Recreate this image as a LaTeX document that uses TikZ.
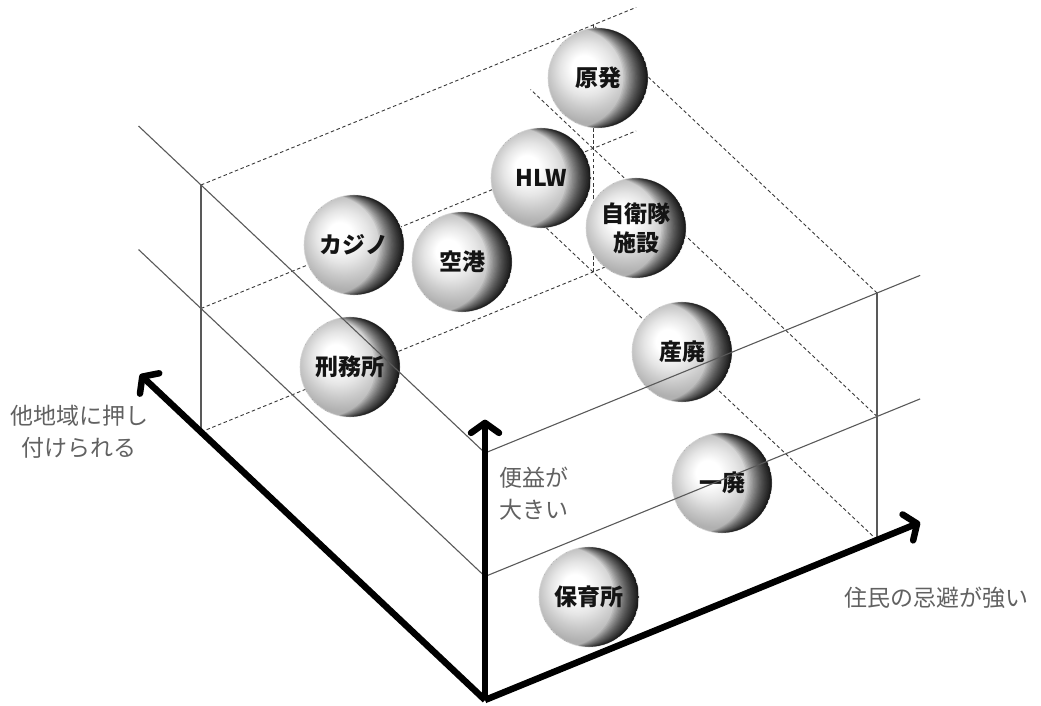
\documentclass[tikz,border=0pt]{standalone}
\usepackage{fontspec}
\newfontfamily\jp{Noto Sans CJK JP}
\usetikzlibrary{arrows.meta}

% light base of each ball: white highlight upper left, grey rim
\pgfdeclareradialshading{orbbase}{\pgfpoint{-8bp}{6bp}}{%
  color(0bp)=(white);
  color(6bp)=(white);
  color(13bp)=(black!10);
  color(19bp)=(black!21);
  color(25bp)=(black!31);
  color(50bp)=(black!31)}

\tikzset{
  orbnode/.style={circle, minimum size=100pt, inner sep=0pt, shading=orbbase,
    draw=black!16, line width=0.6pt},
  orbtext/.style={align=center, text=black!92, inner sep=0pt,
    font=\jp\bfseries\fontsize{23}{29}\selectfont},
  frameline/.style={draw=black!65, line width=1.1pt},
  hiddenline/.style={draw=black!78, line width=0.9pt, dash pattern=on 3.5pt off 2.6pt},
  axisarrow/.style={draw=black, line width=6.5pt,
    -{Straight Barb[length=10pt, width=28pt, round]}},
  axislabel/.style={font=\jp\fontsize{23}{32}\selectfont, text=black!62, align=center}
}

\begin{document}
\begin{tikzpicture}[x=1pt, y=1pt]
\useasboundingbox (0,0) rectangle (1041,706);

% oblique frame: x = residents' aversion, y = pushed elsewhere, z = benefit
\begin{scope}[shift={(485,6)}, x={(392pt,160pt)}, y={(-284pt,268pt)}, z={(0pt,123.5pt)}]
  \coordinate (O)   at (0,0,0);
  \coordinate (Z1)  at (0,0,1);
  \coordinate (Z2)  at (0,0,2);
  \coordinate (Ztip) at (0,0,2.27);
  \coordinate (Xtip) at (1.11,0,0);
  \coordinate (Ytip) at (0,1.215,0);
  \coordinate (Z1y) at (0,1.22,1);
  \coordinate (Z2y) at (0,1.22,2);
  \coordinate (Z1x) at (1.11,0,1);
  \coordinate (Z2x) at (1.11,0,2);
  \coordinate (L0)  at (0,1,0);
  \coordinate (L1)  at (0,1,1);
  \coordinate (L2)  at (0,1,2);
  \coordinate (R0)  at (1,0,0);
  \coordinate (R1)  at (1,0,1);
  \coordinate (R2)  at (1,0,2);
  \coordinate (B0)  at (1,1,0);
  \coordinate (B2)  at (1,1,2);
  \coordinate (L0x) at (1.11,1,0);
  \coordinate (L1x) at (1.11,1,1);
  \coordinate (L2x) at (1.11,1,2);
  \coordinate (R0y) at (1,1.22,0);
  \coordinate (R1y) at (1,1.22,1);
\end{scope}

% hidden edges of the box
\draw[hiddenline] (L0) -- (L0x);
\draw[hiddenline] (L1) -- (L1x);
\draw[hiddenline] (L2) -- (L2x);
\draw[hiddenline] (R0) -- (R0y);
\draw[hiddenline] (R1) -- (R1y);
\draw[hiddenline] (R2) -- (B2);
\draw[hiddenline] (B0) -- (B2);

% facilities as balls
\node[orbnode] (genpatsu) at (598,628) {};
\node[orbnode] (hlw)      at (541,528) {};
\node[orbnode] (jieitai)  at (636,478) {};
\node[orbnode] (casino)   at (354,461) {};
\node[orbnode] (kuko)     at (462,444) {};
\node[orbnode] (keimusho) at (350,339) {};
\node[orbnode] (sanpai)   at (682,354) {};
\node[orbnode] (ippai)    at (722,223) {};
\node[orbnode] (hoikusho) at (589,109) {};

% dark rim on the right of each ball: many faint stacked crescents
\foreach \b in {genpatsu,hlw,jieitai,casino,kuko,keimusho,sanpai,ippai,hoikusho}{
  \begin{scope}
    \clip (\b.center) circle (49.7pt);
    \foreach \i in {1,...,32}{
      \pgfmathsetmacro{\d}{0.024*\i*\i}
      \fill[black, opacity=0.062, even odd rule]
        (\b.center) circle (50pt) ([xshift=-\d pt]\b.center) circle (50pt);
    }
  \end{scope}
}

% facility names
\node[orbtext] (genpatsu-t) at (genpatsu) {原発};
\node[orbtext] (hlw-t)      at (hlw)      {HLW};
\node[orbtext] (jieitai-t)  at (jieitai)  {自衛隊\\施設};
\node[orbtext] (casino-t)   at (casino)   {カジノ};
\node[orbtext] (kuko-t)     at (kuko)     {空港};
\node[orbtext] (keimusho-t) at (keimusho) {刑務所};
\node[orbtext] (sanpai-t)   at (sanpai)   {産廃};
\node[orbtext] (ippai-t)    at (ippai)    {一廃};
\node[orbtext] (hoikusho-t) at (hoikusho) {保育所};

% visible frame lines
\draw[frameline] (Z2y) -- (Z2) -- (Z2x);
\draw[frameline] (Z1y) -- (Z1) -- (Z1x);
\draw[frameline] (L0) -- (L2);
\draw[frameline] (R0) -- (R2);

% axes
\draw[axisarrow] (O) -- (Xtip);
\draw[axisarrow] (O) -- (Ytip);
\draw[axisarrow] (O) -- (Ztip);

% axis captions
\node[axislabel] (ylab) at (79,274) {他地域に押し\\付けられる};
\node[axislabel, align=left, anchor=west] (zlab) at (496,212.5) {便益が\\大きい};
\node[axislabel] (xlab) at (936,108) {住民の忌避が強い};
\end{tikzpicture}
\end{document}
